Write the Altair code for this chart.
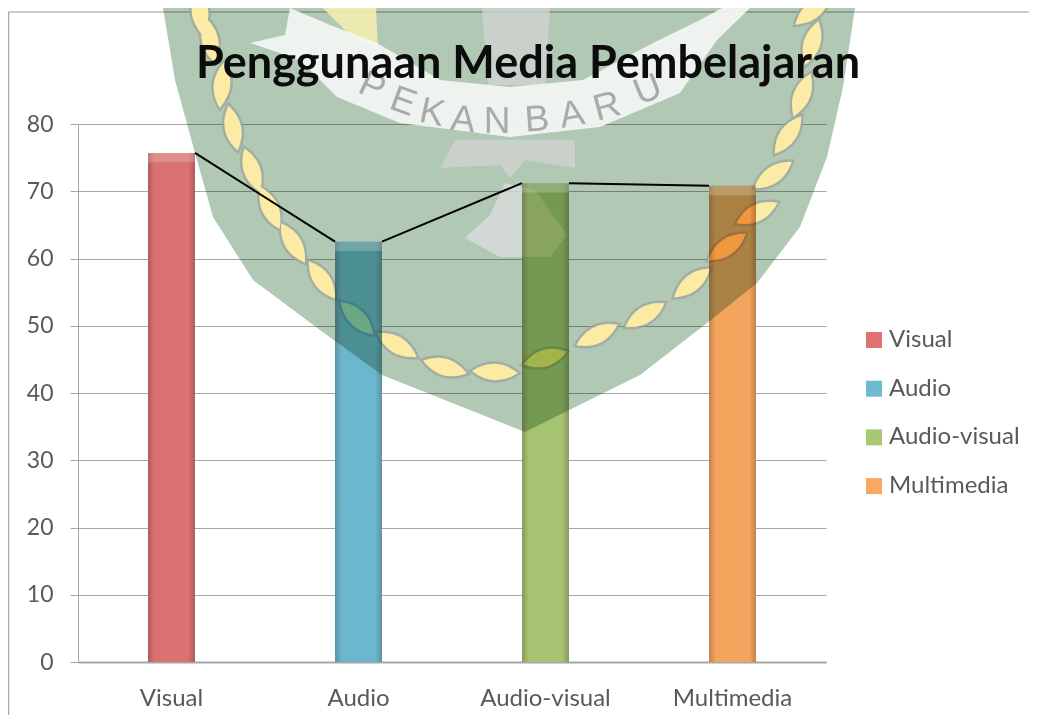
import altair as alt
import pandas as pd

categories = ["Visual", "Audio", "Audio-visual", "Multimedia"]
values = [75.7, 62.5, 71.2, 70.8]
colors = ["#DE7472", "#6DBBD3", "#A9C874", "#F9A95F"]
next_categories = ["Audio", "Audio-visual", "Multimedia"]
next_values = [62.5, 71.2, 70.8]
FONT = "Lato"
TEXT = "#595959"
GREY = "#a6a6a6"

df = pd.DataFrame({"cat": categories, "val": values})
links = pd.DataFrame({"cat": categories[:-1], "val": values[:-1],
                      "cat2": next_categories, "val2": next_values})
one = alt.Data(values=[{"a": 1}])

x = alt.X("cat:N", sort=categories, title=None,
          scale=alt.Scale(paddingInner=0.75, paddingOuter=0.375, align=0.5),
          axis=alt.Axis(labelAngle=0, ticks=False, domain=True, domainColor=GREY, domainWidth=2,
                        labelFont=FONT, labelFontSize=24, labelColor=TEXT, labelPadding=24, grid=False))
y = alt.Y("val:Q", title=None, scale=alt.Scale(domain=[0, 80], nice=False),
          axis=alt.Axis(values=list(range(0, 90, 10)), tickColor=GREY, tickSize=8, domainColor=GREY,
                        gridColor=GREY, labelFont=FONT, labelFontSize=23, labelColor=TEXT, labelPadding=17))
x_plain = alt.X("cat:N", sort=categories)

under = alt.Chart(df).mark_bar(size=47, color="white").encode(x=x, y=y)

bars = alt.Chart(df).mark_bar(size=47, blend="multiply").encode(
    x=x_plain, y="val:Q",
    color=alt.Color("cat:N", sort=categories,
                    scale=alt.Scale(domain=categories, range=colors),
                    legend=alt.Legend(orient="none", legendX=784, legendY=204, title=None,
                                      symbolType="square", symbolSize=256, symbolStrokeWidth=0,
                                      symbolOpacity=1, labelFont=FONT, labelFontSize=24, labelColor=TEXT,
                                      labelOffset=3, rowPadding=24.7)))

edge = alt.Gradient(gradient="linear", x1=0, x2=1, y1=0, y2=0, stops=[
    alt.GradientStop(offset=0, color="rgba(60,40,40,0.30)"),
    alt.GradientStop(offset=0.14, color="rgba(60,40,40,0.03)"),
    alt.GradientStop(offset=0.86, color="rgba(60,40,40,0.03)"),
    alt.GradientStop(offset=1, color="rgba(60,40,40,0.30)")])
shade = alt.Chart(df).mark_bar(size=47, fill=edge).encode(x=x_plain, y="val:Q")

bevel = alt.Chart(df).transform_calculate(low="datum.val-1.4").mark_bar(
    size=47, color="white", opacity=0.2).encode(x=x_plain, y="val:Q", y2="low:Q")

series_lines = alt.Chart(links).mark_rule(color="black", strokeWidth=2, xOffset=23.5, x2Offset=-23.5).encode(
    x=x_plain, x2="cat2:N", y="val:Q", y2="val2:Q")

frame_left = alt.Chart(one).mark_rule(color="#a8a8a8", strokeWidth=1.5).encode(
    x=alt.value(-69.5), y=alt.value(-112), y2=alt.value(591))
frame_top = alt.Chart(one).mark_rule(color="#9a9a9a", strokeWidth=1).encode(
    x=alt.value(-69.5), x2=alt.value(951), y=alt.value(-112))


# ---- the watermark crest behind the chart (decoration, in page pixels) ----
def to_plot(points):
    return [(px - 78, py - 124) for px, py in points]


def poly(points):
    return "M" + " L".join(f"{a} {b}" for a, b in to_plot(points)) + " Z"


def shape_layer(path, fill, blend=None, opacity=1):
    kw = {"blend": blend} if blend else {}
    return alt.Chart(one).mark_point(shape=path, size=4, filled=True, fill=fill, opacity=opacity,
                                     strokeWidth=0, **kw).encode(x=alt.value(0), y=alt.value(0))


shield_path = poly([(163, 8), (175, 80), (195, 153), (213, 217), (253, 280), (320, 330), (382, 375), (525, 432),
                    (640, 375), (707, 323), (757, 283), (800, 227), (827, 157), (843, 87), (855, 8)])
shield = shape_layer(shield_path, "#B1C8B5", "multiply")

leaf_centres = [(200, 12), (210, 40), (222, 85), (233, 128), (252, 170), (270, 208), (293, 243), (322, 280),
                (357, 318), (397, 345), (445, 367), (495, 372), (545, 358), (597, 335), (645, 315), (692, 283),
                (727, 247), (757, 213), (773, 175), (788, 135), (802, 95), (812, 43), (813, 10)]
leaf_dirs = [(0.1, 1), (0.2, 1), (-0.1, 1), (0.2, 1), (0.35, 1), (0.45, 1), (0.6, 1), (0.7, 1), (1, 1), (1, 0.6),
             (1, 0.3), (1, 0.05), (1, -0.3), (1, -0.5), (1, -0.6), (1, -0.8), (1, -0.7), (1, -0.5), (1, -0.7),
             (0.7, -1), (0.4, -1), (0.3, -1), (0.6, -0.5)]


def leaf_paths(half_length, ratio):
    parts = []
    for (cx, cy), (dx, dy) in zip(to_plot(leaf_centres), leaf_dirs):
        n = (dx * dx + dy * dy) ** 0.5
        ux, uy = dx / n * half_length, dy / n * half_length
        vx, vy = -uy * ratio, ux * ratio
        parts.append(f"M{cx-ux:.1f} {cy-uy:.1f} Q{cx+vx:.1f} {cy+vy:.1f} {cx+ux:.1f} {cy+uy:.1f} "
                     f"Q{cx-vx:.1f} {cy-vy:.1f} {cx-ux:.1f} {cy-uy:.1f} Z")
    return " ".join(parts)


leaf_rims = shape_layer(leaf_paths(27, 0.8), "#9EA69F", None, 0.75)
leaves = shape_layer(leaf_paths(23, 0.72), "#FBEBA5")

banner = shape_layer(poly([(290, 8), (330, 25), (377, 43), (440, 80), (510, 87), (583, 80), (653, 43), (700, 20),
                           (722, 8), (750, 8), (717, 40), (680, 93), (600, 127), (510, 137), (400, 123),
                           (337, 97), (300, 60), (250, 43), (285, 35)]), "#F4F6F4", None, 0.92)
sheaf = shape_layer(poly([(323, 8), (376, 8), (378, 50), (350, 35)]), "#F3EDB0", None, 0.9)
column = shape_layer(poly([(482, 8), (550, 8), (545, 85), (488, 85)]), "#CFD3D0", None, 0.8)
tail = shape_layer(poly([(455, 140), (575, 140), (575, 168), (525, 160), (510, 178), (500, 165), (440, 168)]),
                   "#CFD3D0", None, 0.8)
body = shape_layer(poly([(505, 183), (535, 190), (567, 235), (550, 257), (500, 257), (465, 238), (490, 215)]),
                   "#D8DBD8", None, 0.85)

crest_letters = list("PEKANBARU")
crest_x = [372, 403, 432, 463, 497, 537, 572, 607, 648]
crest_y = [87, 102, 113, 120, 122, 120, 115, 107, 90]
crest_angle = [25, 20, 12, 6, 0, 356, 350, 345, 338]
crest_df = pd.DataFrame({"t": crest_letters, "px": [v - 78 for v in crest_x], "py": [v - 124 for v in crest_y],
                         "a": crest_angle})
crest = alt.Chart(crest_df).mark_text(font="Liberation Sans", fontSize=37, color="#A9ABAA",
                                      align="center", baseline="middle").encode(
    x=alt.X("px:Q", scale=None), y=alt.Y("py:Q", scale=None), text="t:N", angle=alt.Angle("a:Q", scale=None))

chart = alt.layer(frame_left, frame_top, under, shield, sheaf, column, banner, tail, body, crest,
                  leaf_rims, leaves, bars, shade, bevel, series_lines).resolve_scale(x="shared").properties(
    width=748, height=538,
    autosize=alt.AutoSizeParams(type="none"),
    padding={"left": 70, "top": 116, "right": 203, "bottom": 53},
    title=alt.TitleParams("Penggunaan Media Pembelajaran", font=FONT, fontSize=45, fontWeight="bold",
                          color="#0c0c0c", anchor="middle", frame="group", offset=0, dy=102, dx=76),
    background="white",
).configure_view(stroke=None)

chart.save("out.html", embed_options={"renderer": "svg", "actions": False})
